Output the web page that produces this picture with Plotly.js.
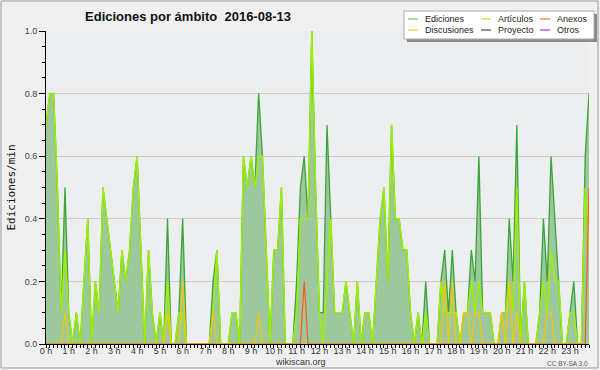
<!DOCTYPE html>
<html>
<head>
<meta charset="utf-8">
<script src="https://cdn.plot.ly/plotly-3.0.1.min.js"></script>
<style>
  html, body { margin: 0; padding: 0; background: #ffffff; }
  #chart { width: 600px; height: 370px; }
</style>
</head>
<body>
<div id="chart"></div>
<script>
// ---- Data: one value every 10 minutes (144 intervals), edits per minute ----
const hourLabels = ["0","1","2","3","4","5","6","7","8","9","10","11","12","13","14","15","16","17","18","19","20","21","22","23"];

const ediciones = [
  0.7,0.8,0.8,0.5,0.1,0.5,0.1,0,0.1,0,0.2,0.4,
  0,0.2,0.1,0.5,0.4,0.3,0.2,0.1,0.3,0.2,0.3,0.5,
  0.6,0.3,0,0.3,0.1,0,0.1,0,0.4,0,0,0.1,
  0.4,0,0,0,0,0,0,0,0.2,0.3,0,0,
  0,0.1,0.1,0,0.6,0.5,0.6,0.5,0.8,0.6,0.3,0,
  0.3,0.3,0.5,0,0,0,0.2,0.5,0.6,0.4,1.0,0.5,
  0.1,0.1,0.7,0.4,0.1,0.1,0.1,0.2,0.1,0,0.2,0,
  0.1,0.1,0,0.2,0.4,0.5,0.2,0.7,0.4,0.4,0.3,0.3,
  0.1,0,0.1,0,0.2,0,0,0,0.2,0.3,0.1,0.3,
  0.1,0,0.1,0.1,0.3,0.2,0.6,0.1,0.1,0.1,0,0,
  0.1,0.1,0.4,0.2,0.7,0,0.2,0,0,0,0.1,0.4,
  0.2,0.6,0.4,0.2,0,0,0.1,0.2,0,0,0.6,0.8
];

const articulos = [
  0.7,0.8,0.8,0.5,0.1,0.3,0.1,0,0.1,0,0.2,0.4,
  0,0.2,0.1,0.5,0.4,0.3,0.2,0.1,0.3,0.2,0.3,0.5,
  0.6,0.3,0,0.3,0.1,0,0.1,0,0.2,0,0,0.1,
  0.1,0,0,0,0,0,0,0,0.1,0.3,0,0,
  0,0.1,0.1,0,0.6,0.5,0.6,0.5,0.6,0.6,0.3,0,
  0.3,0.3,0.5,0,0,0,0.1,0.4,0.4,0.4,1.0,0.5,
  0.1,0,0.2,0.4,0.1,0.1,0.1,0.2,0.1,0,0.2,0,
  0.1,0.1,0,0.2,0.4,0.5,0.2,0.7,0.4,0.4,0.3,0.3,
  0.1,0,0.1,0,0.1,0,0,0,0.2,0.1,0.1,0.1,
  0.1,0,0.1,0.1,0.2,0.1,0.2,0.1,0.1,0.1,0,0,
  0.1,0.1,0.2,0.1,0.5,0,0.2,0,0,0,0.1,0.2,
  0.1,0.3,0.2,0.2,0,0,0.1,0.1,0,0,0.5,0.3
];

const discusiones = [
  0,0,0,0,0,0.1,0,0,0,0,0,0,
  0,0,0,0,0,0,0,0,0,0,0,0,
  0,0,0,0,0,0,0,0,0.1,0,0,0,
  0.2,0,0,0,0,0,0,0,0.1,0,0,0,
  0,0,0,0,0,0,0,0,0.1,0,0,0,
  0,0,0,0,0,0,0,0,0,0,0,0,
  0,0,0,0,0,0,0,0,0,0,0,0,
  0,0,0,0,0,0,0,0,0,0,0,0,
  0,0,0,0,0,0,0,0,0,0.2,0,0.2,
  0,0,0.1,0.1,0,0.1,0.1,0,0,0,0,0,
  0.1,0,0.2,0,0.1,0,0,0,0,0,0,0,
  0.1,0.1,0,0,0,0,0,0,0,0,0,0
];

const anexos = [
  0,0,0,0,0,0,0,0,0,0,0,0,
  0,0,0,0,0,0,0,0,0,0,0,0,
  0,0,0,0,0,0,0,0,0,0,0,0,
  0,0,0,0,0,0,0,0,0,0,0,0,
  0,0,0,0,0,0,0,0,0,0,0,0,
  0,0,0,0,0,0,0,0,0.2,0,0,0,
  0,0,0,0,0,0,0,0,0,0,0,0,
  0,0,0,0,0,0,0,0,0,0,0,0,
  0,0,0,0,0,0,0,0,0,0,0,0,
  0,0,0,0,0,0,0,0,0,0,0,0,
  0,0,0,0,0,0,0,0,0,0,0,0,
  0,0,0,0,0,0,0,0,0,0,0,0.5
];

const seriesNames = ["Ediciones","Artículos","Anexos","Discusiones","Proyecto","Otros"];
const seriesColors = ["#7ccc7c","#bff030","#ff7a45","#ffcc33","#555555","#9944ff"];

// time axis in hours (10-minute steps)
const hours = ediciones.map((_, i) => i / 6);

// ---- geometry helpers (pixel -> paper) ----
const W = 600, H = 370;
const M = {l: 46, r: 11, t: 31, b: 26};
const PW = W - M.l - M.r, PH = H - M.t - M.b;
const px = x => (x - M.l) / PW;
const py = y => (H - M.b - y) / PH;

const traces = [
  {x: hours, y: ediciones, name: "Ediciones", type: "scatter", mode: "lines",
   fill: "tozeroy", fillcolor: "#9dc89d", line: {color: "#3aa53a", width: 1.3}},
  {x: hours, y: articulos, name: "Artículos", type: "scatter", mode: "lines",
   line: {color: "#9ef000", width: 1.5}},
  {x: hours, y: discusiones, name: "Discusiones", type: "scatter", mode: "lines",
   line: {color: "#f5c800", width: 1.2}},
  {x: hours, y: anexos, name: "Anexos", type: "scatter", mode: "lines",
   line: {color: "#ff5a1a", width: 1.2}}
];

// ---- custom legend (three columns, two rows) ----
const shapes = [
  {type: "rect", xref: "paper", yref: "paper", x0: px(1), x1: px(598), y0: py(368), y1: py(1),
   line: {color: "#9a9a9a", width: 1}, fillcolor: "rgba(0,0,0,0)", layer: "above"},
  {type: "rect", xref: "paper", yref: "paper", x0: px(407), x1: px(597), y0: py(42), y1: py(14),
   line: {width: 0}, fillcolor: "#8a8a8a", layer: "above"},
  {type: "rect", xref: "paper", yref: "paper", x0: px(404), x1: px(594), y0: py(39), y1: py(11),
   line: {color: "#aaaaaa", width: 1}, fillcolor: "#ffffff", layer: "above"}
];
const annotations = [];
const colX = [408, 481, 540];
const rowY = [19, 30];
seriesNames.forEach((nm, i) => {
  const c = i % 3, r = Math.floor(i / 3);
  shapes.push({type: "line", xref: "paper", yref: "paper",
    x0: px(colX[c]), x1: px(colX[c] + 10), y0: py(rowY[r]), y1: py(rowY[r]),
    line: {color: seriesColors[i], width: 1.3}, layer: "above"});
  annotations.push({xref: "paper", yref: "paper", x: px(colX[c] + 15), y: py(rowY[r]),
    xanchor: "left", yanchor: "middle", showarrow: false, text: nm,
    font: {family: "Liberation Sans, Arial, sans-serif", size: 9, color: "#222"}});
});
annotations.push({xref: "paper", yref: "paper", x: px(300), y: py(362), xanchor: "center", yanchor: "middle",
  showarrow: false, text: "wikiscan.org", font: {family: "Liberation Sans, Arial, sans-serif", size: 9, color: "#333"}});
annotations.push({xref: "paper", yref: "paper", x: px(590), y: py(363), xanchor: "right", yanchor: "middle",
  showarrow: false, text: "CC BY-SA 3.0", font: {family: "Liberation Sans, Arial, sans-serif", size: 6.5, color: "#555"}});

const layout = {
  width: W, height: H,
  margin: M,
  paper_bgcolor: "#f0f0f0",
  plot_bgcolor: "#eceef0",
  showlegend: false,
  hovermode: false,
  title: {
    text: "<b>Ediciones por ámbito\u00a0 2016-08-13</b>",
    font: {family: "Liberation Sans, Arial, sans-serif", size: 13, color: "#111"},
    xref: "container", yref: "container", x: 188 / W, y: 1 - 16 / H,
    xanchor: "center", yanchor: "middle"
  },
  xaxis: {
    range: [0, 143 / 6], showgrid: false, zeroline: false,
    showline: true, linecolor: "#000", linewidth: 1,
    ticks: "outside", ticklen: 3, tickcolor: "#000", tickwidth: 1,
    ticklabelstandoff: -5,
    tickmode: "array", tickvals: hourLabels.map(Number), ticktext: hourLabels.map(h => h + " h"),
    tickfont: {family: "Liberation Sans, Arial, sans-serif", size: 9, color: "#333"},
    minor: {dtick: 1 / 6, tick0: 0, ticks: "outside", ticklen: 3, tickcolor: "#000", showgrid: false},
    fixedrange: true
  },
  yaxis: {
    range: [0, 1], dtick: 0.2, tick0: 0, tickformat: ".1f",
    showgrid: true, gridcolor: "#cccccc", gridwidth: 1, zeroline: false,
    showline: true, linecolor: "#000", linewidth: 1,
    ticks: "outside", ticklen: 6, tickcolor: "#000",
    tickfont: {family: "Liberation Sans, Arial, sans-serif", size: 9, color: "#444"},
    minor: {dtick: 0.05, ticks: "outside", ticklen: 3, tickcolor: "#000", showgrid: false},
    title: {text: "Ediciones/min", standoff: 6,
      font: {family: "DejaVu Sans Mono, monospace", size: 11, color: "#111"}},
    fixedrange: true
  },
  shapes: shapes,
  annotations: annotations
};

Plotly.newPlot("chart", traces, layout, {staticPlot: true, displayModeBar: false});
</script>
</body>
</html>
